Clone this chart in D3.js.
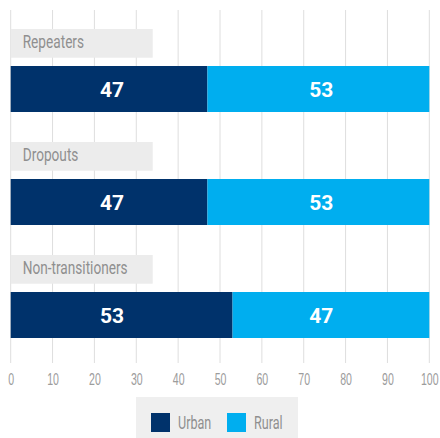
<!DOCTYPE html>
<html>
<head>
<meta charset="utf-8">
<script src="https://cdn.jsdelivr.net/npm/d3@7"></script>
<style>
  html, body { margin: 0; padding: 0; background: #fff; }
  svg { display: block; font-family: Roboto, "Noto Sans", sans-serif; }
</style>
</head>
<body>
<svg id="chart" width="440" height="438"></svg>
<script>
// Share of each group living in urban vs rural areas (%)
const categories = ["Repeaters", "Dropouts", "Non-transitioners"];
const urban = [47, 47, 53];
const rural = [53, 53, 47];
const seriesNames = ["Urban", "Rural"];
const tickValues = [0, 10, 20, 30, 40, 50, 60, 70, 80, 90, 100];

const colors = { Urban: "#00326b", Rural: "#00aeef" };
const labelGrey = "#8f8f8f";

const svg = d3.select("#chart");

const x = d3.scaleLinear().domain([0, 100]).range([10.7, 429.3]);
const y = d3.scaleBand().domain(categories).range([29, 368]).padding(0);

// vertical gridlines
svg.append("g")
  .selectAll("line")
  .data(tickValues)
  .join("line")
  .attr("x1", d => x(d)).attr("x2", d => x(d))
  .attr("y1", 10).attr("y2", 363)
  .attr("stroke", "#dedede")
  .attr("stroke-width", 1);

// tick labels
const axis = d3.axisBottom(x).tickValues(tickValues).tickSize(0).tickPadding(0);
const axisG = svg.append("g").attr("transform", "translate(0,373)").call(axis);
axisG.select(".domain").remove();
axisG.selectAll(".tick text")
  .attr("y", 0).attr("dy", "0.71em")
  .attr("fill", "#9c9c9c")
  .attr("transform", "scale(0.64,1)")
  .style("font-size", "16.5px").style("font-weight", 400);

const rows = categories.map((c, i) => ({ cat: c, urban: urban[i], rural: rural[i] }));

const row = svg.append("g").selectAll("g").data(rows).join("g")
  .attr("transform", d => `translate(0,${y(d.cat)})`);

// category label boxes
row.append("rect")
  .attr("x", x(0)).attr("y", 0)
  .attr("width", 142).attr("height", 28.7)
  .attr("fill", "#ececec");
row.append("text")
  .attr("transform", "translate(22.7,19.3) scale(0.78,1)")
  .attr("fill", labelGrey)
  .style("font-size", "17.5px").style("font-weight", 400)
  .text(d => d.cat);

// stacked bars
const barTop = 37, barH = 46;
row.append("rect")
  .attr("x", x(0)).attr("y", barTop)
  .attr("width", d => x(d.urban) - x(0)).attr("height", barH)
  .attr("fill", colors.Urban);
row.append("rect")
  .attr("x", d => x(d.urban)).attr("y", barTop)
  .attr("width", d => x(d.urban + d.rural) - x(d.urban)).attr("height", barH)
  .attr("fill", colors.Rural);

// value labels
row.append("text")
  .attr("x", x(24.2)).attr("y", barTop + barH / 2).attr("dy", "0.36em")
  .attr("text-anchor", "middle").attr("fill", "#fff")
  .style("font-size", "21px").style("font-weight", 700)
  .text(d => d.urban);
row.append("text")
  .attr("x", x(74.2)).attr("y", barTop + barH / 2).attr("dy", "0.36em")
  .attr("text-anchor", "middle").attr("fill", "#fff")
  .style("font-size", "21px").style("font-weight", 700)
  .text(d => d.rural);

// legend
const legend = svg.append("g");
legend.append("rect")
  .attr("x", 136).attr("y", 397).attr("width", 162).attr("height", 41)
  .attr("fill", "#efefef");
const items = legend.selectAll("g.item").data(seriesNames).join("g")
  .attr("class", "item")
  .attr("transform", (d, i) => `translate(${151 + i * 76},413)`);
items.append("rect")
  .attr("width", 19).attr("height", 19)
  .attr("fill", d => colors[d]);
items.append("text")
  .attr("transform", "translate(27,16.3) scale(0.72,1)")
  .attr("fill", labelGrey)
  .style("font-size", "17.5px").style("font-weight", 400)
  .text(d => d);
</script>
</body>
</html>
